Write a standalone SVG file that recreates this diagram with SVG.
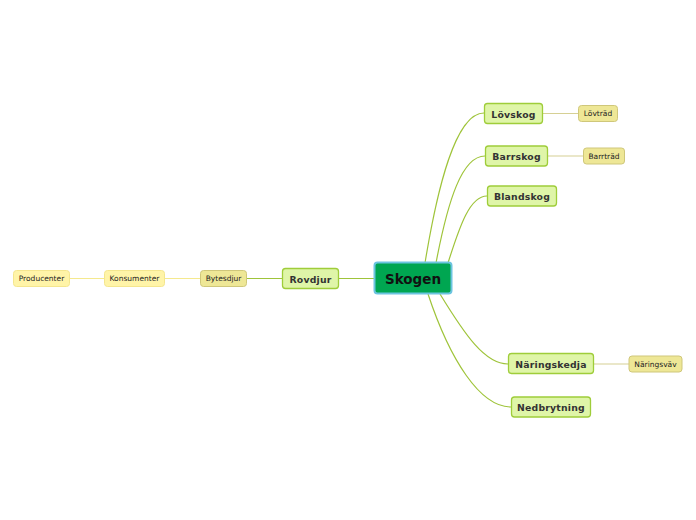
<svg xmlns="http://www.w3.org/2000/svg" width="696" height="520" viewBox="0 0 696 520">
<style>
.bg{fill:#ffffff}
.main rect{fill:#00a651;stroke:#6cc4e0;stroke-width:2}
.main text{font-family:"DejaVu Sans",sans-serif;font-weight:bold;font-size:13.5px;fill:#111}
.l1 rect{fill:#dff5a8;stroke:#9fcd3a;stroke-width:1.3}
.l1 text{font-family:"DejaVu Sans",sans-serif;font-weight:bold;font-size:9.3px;letter-spacing:0.2px;fill:#333}
.l2 rect{fill:#eee796;stroke:#cfc77a;stroke-width:1}
.l2 text{font-family:"DejaVu Sans",sans-serif;font-size:7.5px;fill:#222}
.l3 rect{fill:#fff4a8;stroke:#f4e68e;stroke-width:1}
.l3 text{font-family:"DejaVu Sans",sans-serif;font-size:7.5px;fill:#222}
text{text-anchor:middle;dominant-baseline:central}
.c1{fill:none;stroke:#9fc43a;stroke-width:1.2}
.c2{fill:none;stroke:#d6d094;stroke-width:1.2}
.c3{fill:none;stroke:#f5e98e;stroke-width:1.2}
</style>
<rect class="bg" width="696" height="520"/>
<g id="connectors">
<path class="c1" d="M425,263 C437,190 455,113 484,113"/>
<path class="c1" d="M436,263 C448,200 462,156 485,156"/>
<path class="c1" d="M448,263 C460,225 470,196 487,196"/>
<path class="c1" d="M440,294 C465,335 485,364 508,364"/>
<path class="c1" d="M428,294 C450,360 480,407 511,407"/>
<path class="c1" d="M339,278.5 L374,278.5"/>
<path class="c1" d="M247,278.5 L282,278.5"/>
<path class="c2" d="M543,113.5 L578,113.5"/>
<path class="c2" d="M548,156 L583,156"/>
<path class="c2" d="M594,364 L629,364"/>
<path class="c3" d="M165,278.5 L200,278.5"/>
<path class="c3" d="M70,278.5 L104,278.5"/>
</g>
<g id="skogen" class="main"><rect x="374.5" y="262.5" width="77" height="31" rx="3"/><text x="413" y="278.5">Skogen</text></g>
<g id="lovskog" class="l1"><rect x="484.5" y="103.5" width="58" height="20" rx="3"/><text x="513.5" y="114">Lövskog</text></g>
<g id="barrskog" class="l1"><rect x="485.5" y="146" width="62" height="20" rx="3"/><text x="516.5" y="156.5">Barrskog</text></g>
<g id="blandskog" class="l1"><rect x="487.5" y="186" width="69" height="20" rx="3"/><text x="522" y="196.5">Blandskog</text></g>
<g id="naringskedja" class="l1"><rect x="508.5" y="353.5" width="85" height="20" rx="3"/><text x="551" y="364">Näringskedja</text></g>
<g id="nedbrytning" class="l1"><rect x="511.5" y="397" width="79" height="20" rx="3"/><text x="551" y="407.5">Nedbrytning</text></g>
<g id="rovdjur" class="l1"><rect x="282.5" y="268.5" width="56" height="20" rx="3"/><text x="310.5" y="279">Rovdjur</text></g>
<g id="lovtrad" class="l2"><rect x="578.5" y="105.5" width="39" height="16" rx="3"/><text x="598" y="113.5">Lövträd</text></g>
<g id="barrtrad" class="l2"><rect x="583.5" y="148" width="41" height="16" rx="3"/><text x="604" y="156">Barrträd</text></g>
<g id="naringsvav" class="l2"><rect x="629" y="356" width="53" height="16" rx="3"/><text x="655.5" y="364">Näringsväv</text></g>
<g id="bytesdjur" class="l2"><rect x="200.5" y="270.5" width="46" height="16" rx="3"/><text x="223.5" y="278.5">Bytesdjur</text></g>
<g id="konsumenter" class="l3"><rect x="104.5" y="270.5" width="60" height="16" rx="3"/><text x="134.5" y="278.5">Konsumenter</text></g>
<g id="producenter" class="l3"><rect x="13.5" y="270.5" width="56" height="16" rx="3"/><text x="41.5" y="278.5">Producenter</text></g>
</svg>
